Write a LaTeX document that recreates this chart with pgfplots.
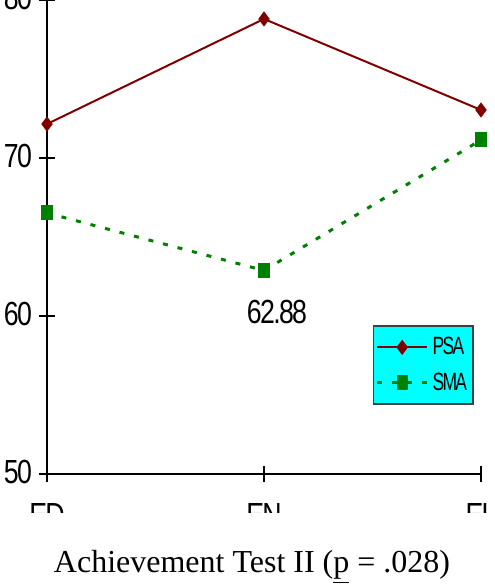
\documentclass[border=0pt]{standalone}
\usepackage{fontspec}
\setmainfont{Liberation Serif}
\newfontfamily\arialc[FakeStretch=0.8,LetterSpace=-5]{Liberation Sans}
\newfontfamily\arialn[FakeStretch=0.7,LetterSpace=-7]{Liberation Sans}
\usepackage{pgfplots}
\pgfplotsset{compat=1.18}
\definecolor{psared}{RGB}{128,0,0}
\definecolor{smagreen}{RGB}{0,128,0}
\definecolor{legcyan}{RGB}{0,255,255}

\begin{document}
\begin{tikzpicture}
% scale: 1 px of the reference = 0.5pt; axis origin at (0,0)
\begin{scope}
\clip (-23.5pt,-19pt) rectangle (223.5pt,237pt);
\begin{axis}[
    at={(0,0)}, anchor=south west,
    scale only axis,
    width=217pt, height=237pt,
    xmin=0, xmax=2, ymin=50, ymax=80,
    axis lines=left,
    axis line style={-, line width=0.75pt},
    xtick={0,1,2}, xticklabels={ED,EN,EL},
    ytick={50,60,70,80},
    tick align=center,
    major tick length=8pt,
    tick style={black, line width=0.75pt},
    /pgf/number format/assume math mode=true,
    tick label style={font=\arialc\fontsize{16.7}{18}\selectfont},
    xticklabel style={yshift=-7pt},
    yticklabel style={yshift=1pt},
    clip=false,
    legend style={at={(rel axis cs:0.751,0.146)}, anchor=south west,
        fill=legcyan, draw=black!75, line width=0.75pt,
        font=\arialn\fontsize{12.5}{14}\selectfont,
        inner xsep=1pt, inner ysep=3.5pt, row sep=3.5pt},
    legend cell align=left,
    legend image code/.code={\draw[mark repeat=2,mark phase=2]
        plot coordinates {(0pt,0pt)(12.5pt,0pt)(25pt,0pt)};},
]
\addplot[color=psared, line width=1pt, mark=diamond*, mark size=3pt]
    coordinates {(0,72.15) (1,78.8) (2,73.04)};
\addlegendentry{PSA}
\addplot[color=smagreen, line width=1.5pt, dash pattern=on 2.5pt off 5pt,
    mark=square*, mark size=3pt, mark options={solid, xscale=0.67}]
    coordinates {(0,66.52) (1,62.88) (2,71.14)};
\addlegendentry{SMA}
\node[font=\arialc\fontsize{16.7}{18}\selectfont] at (axis cs:1,62.88) [xshift=6.5pt, yshift=-21pt] {62.88};
\end{axis}
\end{scope}
\node[font=\fontsize{16}{18}\selectfont] at (102.5pt,-46.5pt) {Achievement Test II (\underline{p} = .028)};
\pgfresetboundingbox
\useasboundingbox (-23.5pt,-56.5pt) rectangle (223.5pt,237pt);
\end{tikzpicture}
\end{document}
